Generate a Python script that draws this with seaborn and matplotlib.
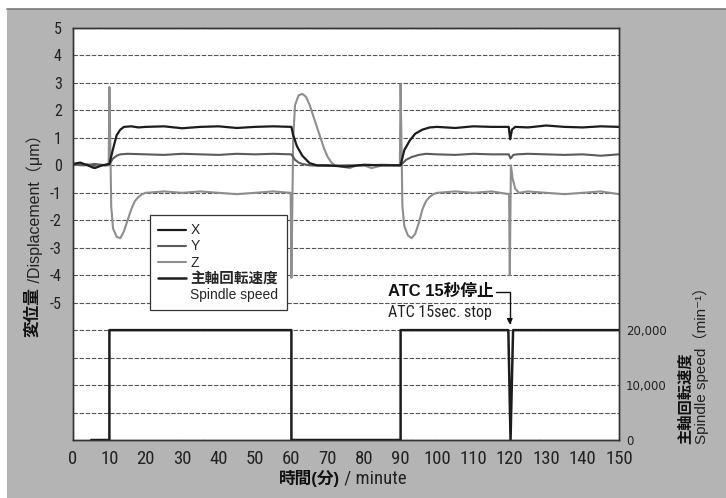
import matplotlib
matplotlib.use("Agg")
import numpy as np
import matplotlib.pyplot as plt
import seaborn as sns
from matplotlib import font_manager
from matplotlib.font_manager import FontProperties
from matplotlib.lines import Line2D
from matplotlib.patches import Rectangle

# --- data ----------------------------------------------------------------
x_time = [0, 2, 4, 6, 8, 10, 11, 12, 13, 14, 16, 18, 20, 25, 30, 35, 40, 45, 50, 55,
          60, 60.5, 61.5, 63, 65, 67, 70, 75, 80, 85, 90, 91, 92.5, 94, 96, 98, 100,
          105, 110, 115, 119.7, 120.1, 120.6, 121.5, 125, 130, 135, 140, 145, 150]
x_disp = [0.05, 0.1, 0.0, -0.1, 0.0, 0.05, 0.6, 1.1, 1.3, 1.4, 1.42, 1.38, 1.4, 1.42,
          1.35, 1.4, 1.42, 1.36, 1.4, 1.42, 1.4, 1.1, 0.7, 0.35, 0.08, 0.0, 0.0, -0.05,
          0.02, 0.0, 0.0, 0.55, 0.9, 1.15, 1.3, 1.38, 1.4, 1.36, 1.42, 1.4, 1.4, 0.95,
          1.3, 1.4, 1.38, 1.45, 1.4, 1.38, 1.42, 1.4]

y_time = [0, 3, 6, 9, 10, 11, 12, 13, 15, 20, 25, 30, 35, 40, 45, 50, 55, 60, 61, 62,
          63, 65, 70, 75, 80, 85, 90, 91.5, 93, 95, 97, 100, 105, 110, 115, 119.7,
          120.2, 121, 122, 125, 130, 135, 140, 145, 150]
y_disp = [0.05, 0.0, 0.05, 0.0, 0.05, 0.25, 0.35, 0.4, 0.42, 0.4, 0.38, 0.42, 0.4,
          0.38, 0.42, 0.4, 0.42, 0.4, 0.2, 0.1, 0.05, 0.0, -0.02, 0.0, 0.0, 0.02, 0.0,
          0.2, 0.3, 0.38, 0.42, 0.4, 0.38, 0.42, 0.4, 0.4, 0.25, 0.38, 0.4, 0.42, 0.4,
          0.38, 0.4, 0.35, 0.4]

z_time = [0, 2, 4, 5.5, 7, 9.8, 10, 10.5, 11, 12, 13, 14, 15, 16, 17, 18, 19, 20, 25,
          30, 35, 40, 45, 50, 55, 59.8, 60, 60.5, 61, 62, 63, 64, 65, 66, 67, 68, 69,
          70, 71, 72, 74, 76, 78, 80, 82, 85, 88, 89.8, 90, 90.5, 91, 92, 93, 94, 95,
          96, 97, 98, 99, 100, 105, 110, 115, 119.8, 120, 120.3, 120.8, 121.5, 122.5,
          125, 130, 135, 140, 145, 150]
z_disp = [0.05, 0.0, 0.05, -0.1, 0.0, 0.0, 2.85, -1.5, -2.3, -2.6, -2.65, -2.4, -2.0,
          -1.6, -1.3, -1.15, -1.05, -1.0, -0.95, -1.0, -0.95, -1.0, -1.05, -1.0, -0.95,
          -1.0, -4.1, 1.0, 2.2, 2.55, 2.6, 2.5, 2.2, 1.8, 1.4, 1.0, 0.6, 0.3, 0.1, 0.0,
          -0.05, -0.1, 0.0, 0.0, -0.1, 0.0, 0.0, 0.0, 2.95, -1.5, -2.2, -2.55, -2.65,
          -2.5, -2.1, -1.6, -1.3, -1.15, -1.05, -1.0, -0.95, -1.0, -0.95, -1.05, -4.0,
          0.0, -0.5, -0.85, -1.0, -0.95, -1.0, -1.05, -1.0, -0.95, -1.05]

sp_time = [5, 10, 10, 60, 60, 90, 90, 119.6, 120.2, 120.9, 150]
sp_speed = [0, 0, 20000, 20000, 0, 0, 20000, 20000, 0, 20000, 20000]

disp_ticks = list(range(-10, 6))
disp_labels = [str(v) if v >= -5 else "" for v in disp_ticks]
speed_ticks = [0, 10000, 20000]
speed_labels = ["0", "10,000", "20,000"]
time_ticks = list(range(0, 151, 10))

# --- style -----------------------------------------------------------------
sns.set_theme(style="white")
plt.rcParams["font.family"] = ["Liberation Sans", "Noto Sans CJK JP", "DejaVu Sans"]


def condensed_font():
    # the scan uses a narrow face for numbers; take whatever narrow font exists
    cands = []
    for f in font_manager.fontManager.ttflist:
        narrowish = ("Narrow" in f.name or "Condensed" in f.name
                     or f.stretch in ("condensed", "semi-condensed"))
        if narrowish and f.style == "normal" and f.weight in (400, "normal", "regular"):
            cands.append(f)
    for pref in ("Liberation Sans Narrow", "Roboto Condensed", "DejaVu Sans", "Open Sans"):
        for f in cands:
            if f.name.startswith(pref):
                return f.fname
    return cands[0].fname if cands else None


cond_path = condensed_font()


def narrow_prop(size):
    if cond_path:
        return FontProperties(fname=cond_path, size=size)
    return FontProperties(family="Liberation Sans", size=size, stretch="condensed")


W, H = 726, 498
fig = plt.figure(figsize=(W / 100, H / 100), dpi=100, facecolor="white")
fig.patches.append(Rectangle((7 / W, 0), 1, (H - 9) / H, transform=fig.transFigure,
                             facecolor="#b4b4b4", edgecolor="none", zorder=-10))
fig.add_artist(Line2D([7 / W, 1], [(H - 9) / H] * 2, color="#7a7a7a", lw=1.2))

ax = fig.add_axes([73 / W, 58 / H, 546 / W, 412 / H])
ax.set_facecolor("white")

sns.lineplot(x=z_time, y=z_disp, ax=ax, color="#8e8e8e", linewidth=1.5,
             estimator=None, sort=False, legend=False)
sns.lineplot(x=y_time, y=y_disp, ax=ax, color="#5c5c5c", linewidth=1.5,
             estimator=None, sort=False, legend=False)
sns.lineplot(x=x_time, y=x_disp, ax=ax, color="#1c1c1c", linewidth=1.6,
             estimator=None, sort=False, legend=False)
z_line, y_line, x_line = ax.lines[:3]

ax.set_xlim(0, 150)
ax.set_ylim(-10, 5)
ax.set_xticks(time_ticks)
ax.set_xticklabels([str(t) for t in time_ticks])
for lab in ax.get_xticklabels():
    lab.set_fontproperties(narrow_prop(13.5))
ax.set_yticks(disp_ticks)
ax.set_yticklabels(disp_labels)
for lab in ax.get_yticklabels():
    lab.set_fontproperties(narrow_prop(11.5))
ax.tick_params(axis="x", length=0, pad=7, colors="#222")
ax.tick_params(axis="y", length=0, pad=8, colors="#222")
ax.grid(axis="y", color="#555555", lw=0.8, ls=(0, (4, 1.5)))
ax.grid(axis="x", visible=False)
ax.set_xlabel("")
ax.set_ylabel("")

ax2 = ax.twinx()
sns.lineplot(x=sp_time, y=sp_speed, ax=ax2, color="#1c1c1c", linewidth=1.8,
             estimator=None, sort=False, legend=False)
sp_line = ax2.lines[0]
ax2.set_ylim(0, 75000)
ax2.set_yticks(speed_ticks)
ax2.set_yticklabels(speed_labels, family="DejaVu Sans", fontsize=8.5)
ax2.tick_params(axis="y", length=0, pad=5, colors="#222")
ax2.set_ylabel("")

for a in (ax, ax2):
    for s in a.spines.values():
        s.set_color("#333333")
        s.set_linewidth(1.0)

# legend
blank = Line2D([], [], color="none")
leg = ax2.legend([x_line, y_line, z_line, sp_line, blank],
                 ["X", "Y", "Z", "主軸回転速度", "Spindle speed"],
                 loc="upper left", bbox_to_anchor=(0.141, 0.546), frameon=True,
                 fancybox=False, edgecolor="#333333", framealpha=1, fontsize=10,
                 handlelength=2.0, handletextpad=0.3, labelspacing=0.15,
                 borderpad=0.6, borderaxespad=0)
leg.get_frame().set_linewidth(0.9)
leg.get_texts()[3].set_fontweight("bold")
leg.get_texts()[3].set_fontsize(10.5)

# ATC annotation
t_atc = ax.text(86.5, -4.6, "ATC 15秒停止", fontsize=12, fontweight="bold",
                va="center", ha="left", color="#111")
ax.text(86.5, -5.37, "ATC 15sec. stop", fontproperties=narrow_prop(11.5),
        va="center", ha="left", color="#222")
ax.annotate("", xy=(120, -5.8), xytext=(1, 0.5), textcoords=t_atc,
            arrowprops=dict(arrowstyle="-|>", color="#111", lw=1.0,
                            connectionstyle="angle,angleA=0,angleB=90,rad=0",
                            shrinkA=2, shrinkB=0, mutation_scale=8))

# axis titles
t_y = fig.text(33 / W, (H - 337) / H, "変位量", rotation=90, ha="center",
               va="bottom", fontsize=12, fontweight="bold", color="#111")
ax.annotate(" /Displacement（μm）", xy=(0.6, 1.0), xycoords=t_y, rotation=90,
            ha="center", va="bottom", fontsize=11.5, color="#222")

fig.text(340 / W, 11 / H, "時間(分)", ha="right", va="bottom",
         fontsize=12, fontweight="bold", color="#111")
fig.text(340 / W, 11 / H, " / minute", ha="left", va="bottom",
         fontproperties=narrow_prop(13.5), color="#222")

fig.text(686 / W, (H - 444) / H, "主軸回転速度", rotation=90, ha="center",
         va="bottom", fontsize=11, fontweight="bold", color="#111")
fig.text(701 / W, (H - 444) / H, "Spindle speed（min⁻¹）", rotation=90, ha="center",
         va="bottom", fontsize=11, color="#222")

fig.savefig("out.png", dpi=100, facecolor=fig.get_facecolor())
